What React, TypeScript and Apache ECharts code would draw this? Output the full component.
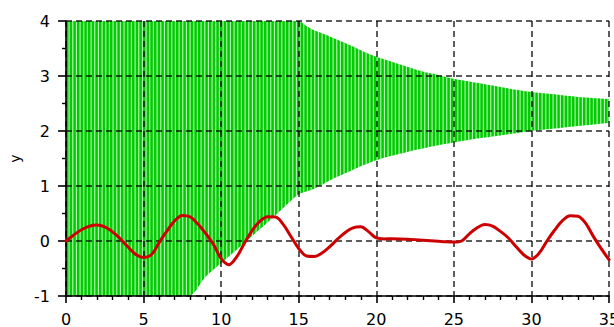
import React, { useEffect, useRef } from "react";
import * as echarts from "echarts";

// Envelope of the fast green oscillation (clipped to the visible y range)
const envX = [0, 7.86, 9, 10, 11, 12, 13, 14, 15, 15.5, 16, 17, 18, 19, 20, 21, 22, 23, 24, 25, 26, 27, 28, 29, 30, 31, 32, 33, 34, 35];
const envUpper = [4, 4, 4, 4, 4, 4, 4, 4, 4, 3.91, 3.83, 3.72, 3.6, 3.47, 3.35, 3.26, 3.17, 3.08, 3.02, 2.95, 2.9, 2.85, 2.8, 2.75, 2.71, 2.68, 2.65, 2.62, 2.6, 2.58];
const envLower = [-1, -1, -0.65, -0.4, -0.16, 0.09, 0.34, 0.6, 0.85, 0.9, 0.95, 1.1, 1.23, 1.36, 1.47, 1.55, 1.62, 1.68, 1.74, 1.79, 1.84, 1.88, 1.92, 1.96, 2.0, 2.03, 2.06, 2.09, 2.12, 2.15];

// Slow red signal, sampled every 0.5
const redX = [
  0, 0.5, 1, 1.5, 2, 2.5, 3, 3.5, 4, 4.5, 5, 5.5, 6, 6.5, 7, 7.5, 8, 8.5, 9, 9.5,
  10, 10.5, 11, 11.5, 12, 12.5, 13, 13.5, 14, 14.5, 15, 15.5, 16, 16.5, 17, 17.5, 18, 18.5, 19, 19.5,
  20, 20.5, 21, 21.5, 22, 22.5, 23, 23.5, 24, 24.5, 25, 25.5, 26, 26.5, 27, 27.5, 28, 28.5, 29, 29.5,
  30, 30.5, 31, 31.5, 32, 32.5, 33, 33.5, 34, 34.5, 35,
];
const redY = [
  0.0, 0.11, 0.205, 0.268, 0.29, 0.255, 0.165, 0.04, -0.11, -0.245, -0.299, -0.25, -0.03, 0.18, 0.365, 0.465, 0.44, 0.31, 0.14, -0.06,
  -0.32, -0.43, -0.29, -0.04, 0.19, 0.36, 0.44, 0.435, 0.302, 0.082, -0.136, -0.272, -0.281, -0.218, -0.104, 0.033, 0.156, 0.238, 0.258, 0.17,
  0.055, 0.038, 0.04, 0.038, 0.033, 0.025, 0.015, 0.005, -0.005, -0.015, -0.02, 0.0, 0.13, 0.24, 0.299, 0.27, 0.175, 0.06, -0.1, -0.25,
  -0.326, -0.22, 0.0, 0.2, 0.37, 0.46, 0.45, 0.32, 0.08, -0.14, -0.34,
];

const xTicks = { min: 0, max: 35, interval: 5 };
const yTicks = { min: -1, max: 4, interval: 1 };

function makeStripes(): HTMLCanvasElement {
  const c = document.createElement("canvas");
  c.width = 11;
  c.height = 4;
  const ctx = c.getContext("2d")!;
  ctx.fillStyle = "#b4eeb4";
  ctx.fillRect(0, 0, 11, 4);
  ctx.fillStyle = "#00cc00";
  const period = 11 / 3;
  for (let i = 0; i < 3; i++) {
    ctx.fillRect(i * period, 0, 2.5, 4);
  }
  return c;
}

export default function App() {
  const ref = useRef<HTMLDivElement>(null);

  useEffect(() => {
    if (!ref.current) return;
    const chart = echarts.init(ref.current, undefined, { renderer: "svg" });

    const upperData = envX.map((x, i) => [x, envUpper[i]]);
    const lowerData = envX.map((x, i) => [x, envLower[i]]);
    const redData = redX.map((x, i) => [x, redY[i]]);

    const font = "DejaVu Sans";
    const dashed = { color: "rgba(0,0,0,0.85)", width: 1.5, type: [6, 4] as number[] };

    chart.setOption({
      animation: false,
      grid: {
        left: 66,
        right: 5,
        top: 21,
        bottom: 31,
        containLabel: false,
        outerBoundsMode: "none",
      },
      xAxis: {
        type: "value",
        min: xTicks.min,
        max: xTicks.max,
        interval: xTicks.interval,
        z: 4,
        axisLine: { show: true, onZero: false, lineStyle: { color: "#000", width: 1.6 } },
        axisTick: { show: true, inside: false, length: 7, lineStyle: { color: "#000", width: 1.6 } },
        minorTick: { show: true, splitNumber: 5, length: 4, lineStyle: { color: "#000", width: 1.4 } },
        splitLine: { show: true, lineStyle: dashed },
        axisLabel: { color: "#000", fontFamily: font, fontSize: 16, margin: 15 },
      },
      yAxis: {
        type: "value",
        min: yTicks.min,
        max: yTicks.max,
        interval: yTicks.interval,
        z: 4,
        name: "y",
        nameLocation: "middle",
        nameGap: 44,
        nameRotate: 90,
        nameTextStyle: { color: "#000", fontFamily: font, fontSize: 14 },
        axisLine: { show: true, onZero: false, lineStyle: { color: "#000", width: 1.6 } },
        axisTick: { show: true, inside: false, length: 8, lineStyle: { color: "#000", width: 1.6 } },
        minorTick: { show: true, splitNumber: 2, length: 4, lineStyle: { color: "#000", width: 1.4 } },
        splitLine: { show: true, lineStyle: dashed },
        axisLabel: { color: "#000", fontFamily: font, fontSize: 16, margin: 16 },
      },
      series: [
        {
          // striped fill from the bottom of the plot up to the upper envelope
          type: "line",
          data: upperData,
          smooth: 0.3,
          symbol: "none",
          lineStyle: { width: 0, opacity: 0 },
          areaStyle: {
            origin: "start",
            opacity: 1,
            color: {
              image: makeStripes(),
              repeat: "repeat",
              imageWidth: 11,
              imageHeight: 4,
            } as any,
          },
          z: 2,
          silent: true,
        },
        {
          // blank out everything below the lower envelope
          type: "line",
          data: lowerData,
          smooth: 0.3,
          symbol: "none",
          lineStyle: { width: 0, opacity: 0 },
          areaStyle: { origin: "start", opacity: 1, color: "#ffffff" },
          z: 3,
          silent: true,
        },
        {
          type: "line",
          data: redData,
          smooth: 0.35,
          symbol: "none",
          lineStyle: { color: "#cc0000", width: 3, join: "round", cap: "round" },
          z: 10,
        },
      ],
    });

    return () => chart.dispose();
  }, []);

  return (
    <div
      ref={ref}
      style={{ position: "fixed", left: 0, top: 0, width: 614, height: 327, background: "#fff" }}
    />
  );
}
